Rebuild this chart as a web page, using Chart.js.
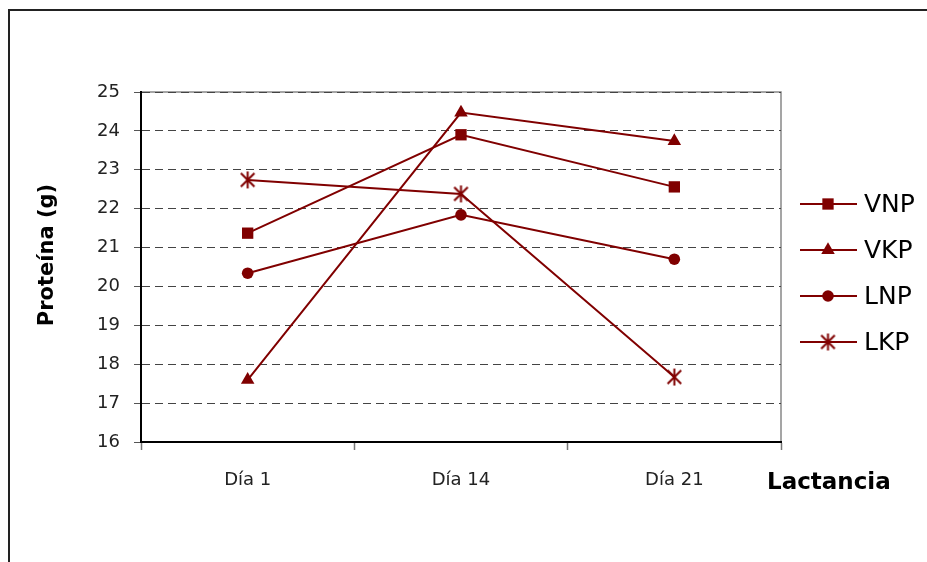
<!DOCTYPE html>
<html>
<head>
<meta charset="utf-8">
<script src="https://cdn.jsdelivr.net/npm/chart.js@4/dist/chart.umd.min.js"></script>
<style>
  html, body { margin: 0; padding: 0; background: #fff; }
  #wrap { position: relative; width: 927px; height: 562px; }
</style>
</head>
<body>
<div id="wrap"><canvas id="c"></canvas></div>
<script>
// Protein content (g) in milk over the lactation period
const days = ['Día 1', 'Día 14', 'Día 21'];
const seriesNames = ['VNP', 'VKP', 'LNP', 'LKP'];
const vnp = [21.37, 23.9, 22.56];
const vkp = [17.6, 24.47, 23.74];
const lnp = [20.34, 21.84, 20.7];
const lkp = [22.74, 22.38, 17.67];
const yTicks = [16, 17, 18, 19, 20, 21, 22, 23, 24, 25];
const yTitle = 'Proteína (g)';
const xTitle = 'Lactancia';

const MAROON = '#800000';
const FONT = '"DejaVu Sans", sans-serif';

// Asterisk marker: an X with a vertical bar
function makeStar(size) {
  const cv = document.createElement('canvas');
  cv.width = size; cv.height = size;
  const g = cv.getContext('2d');
  const h = size / 2, r = size / 2 - 1;
  g.strokeStyle = MAROON;
  g.lineWidth = 2;
  g.beginPath();
  g.moveTo(h, h - r); g.lineTo(h, h + r);
  const d = r * 0.8;
  g.moveTo(h - d, h - d); g.lineTo(h + d, h + d);
  g.moveTo(h - d, h + d); g.lineTo(h + d, h - d);
  g.stroke();
  return cv;
}
const starImg = makeStar(19);

const styles = [
  { pointStyle: 'rect', radius: 8 },
  { pointStyle: 'triangle', radius: 7.8 },
  { pointStyle: 'circle', radius: 5.8 },
  { pointStyle: starImg, radius: 9 }
];
const values = [vnp, vkp, lnp, lkp];

const datasets = seriesNames.map((name, i) => ({
  label: name,
  data: values[i],
  borderColor: MAROON,
  backgroundColor: MAROON,
  borderWidth: 2,
  pointStyle: styles[i].pointStyle,
  pointRadius: styles[i].radius,
  pointHoverRadius: styles[i].radius,
  pointBorderWidth: 0,
  pointBackgroundColor: MAROON,
  pointBorderColor: MAROON,
  tension: 0,
  fill: false
}));

function drawMarker(ctx, style, r, x, y) {
  ctx.save();
  ctx.fillStyle = MAROON;
  ctx.beginPath();
  if (style === 'rect') {
    const s = Math.SQRT1_2 * r;
    ctx.rect(x - s, y - s, 2 * s, 2 * s);
    ctx.fill();
  } else if (style === 'triangle') {
    ctx.moveTo(x, y - r);
    ctx.lineTo(x + Math.sin(2 * Math.PI / 3) * r, y + r / 2);
    ctx.lineTo(x - Math.sin(2 * Math.PI / 3) * r, y + r / 2);
    ctx.closePath();
    ctx.fill();
  } else if (style === 'circle') {
    ctx.arc(x, y, r, 0, Math.PI * 2);
    ctx.fill();
  } else {
    ctx.drawImage(style, x - style.width / 2, y - style.height / 2);
  }
  ctx.restore();
}

const decor = {
  id: 'decor',
  beforeDraw(chart) {
    const ctx = chart.ctx, a = chart.chartArea;
    ctx.save();
    // outer frame
    ctx.strokeStyle = '#222';
    ctx.lineWidth = 2;
    ctx.beginPath();
    ctx.moveTo(9, 562); ctx.lineTo(9, 10); ctx.lineTo(927, 10);
    ctx.stroke();
    // plot frame (top and right)
    ctx.strokeStyle = '#888';
    ctx.lineWidth = 1.5;
    ctx.beginPath();
    ctx.moveTo(a.left, a.top); ctx.lineTo(a.right, a.top); ctx.lineTo(a.right, a.bottom);
    ctx.stroke();
    ctx.restore();
  },
  afterDraw(chart) {
    const ctx = chart.ctx, a = chart.chartArea;
    ctx.save();
    // axis titles
    ctx.fillStyle = '#000';
    ctx.font = 'bold 21px ' + FONT;
    ctx.textAlign = 'center';
    ctx.textBaseline = 'middle';
    ctx.save();
    ctx.translate(48, 255);
    ctx.rotate(-Math.PI / 2);
    ctx.fillText(yTitle, 0, 0);
    ctx.restore();
    ctx.font = 'bold 23px ' + FONT;
    ctx.textAlign = 'left';
    ctx.textBaseline = 'alphabetic';
    ctx.fillText(xTitle, 767, 489);
    // legend
    const x0 = a.right + 19, x1 = a.right + 76, xm = a.right + 47;
    chart.data.datasets.forEach((ds, i) => {
      const y = 204 + i * 46;
      ctx.strokeStyle = MAROON;
      ctx.lineWidth = 2;
      ctx.beginPath();
      ctx.moveTo(x0, y); ctx.lineTo(x1, y);
      ctx.stroke();
      drawMarker(ctx, ds.pointStyle, ds.pointRadius, xm, y);
      ctx.fillStyle = '#000';
      ctx.font = '25px ' + FONT;
      ctx.textAlign = 'left';
      ctx.textBaseline = 'middle';
      ctx.fillText(ds.label, a.right + 83, y + 1);
    });
    ctx.restore();
  }
};

new Chart(document.getElementById('c'), {
  type: 'line',
  data: { labels: days, datasets },
  plugins: [decor],
  options: {
    responsive: true,
    maintainAspectRatio: false,
    animation: false,
    events: [],
    layout: { padding: { left: 10, top: 92, right: 146, bottom: 0 } },
    plugins: { legend: { display: false }, tooltip: { enabled: false } },
    scales: {
      x: {
        offset: true,
        grid: {
          offset: true,
          drawOnChartArea: false,
          drawTicks: true,
          tickLength: 8,
          tickColor: '#777',
          tickWidth: 1.5
        },
        border: { display: true, color: '#000', width: 2 },
        ticks: {
          color: '#222',
          font: { family: FONT, size: 18 },
          padding: 20,
          maxRotation: 0
        },
        afterFit(scale) { scale.height = 120; }
      },
      y: {
        min: yTicks[0],
        max: yTicks[yTicks.length - 1],
        afterBuildTicks(scale) { scale.ticks = yTicks.map(v => ({ value: v })); },
        grid: {
          color: '#444',
          lineWidth: 1,
          drawTicks: true,
          tickLength: 7,
          tickColor: '#555',
          tickWidth: 1,
          tickBorderDash: []
        },
        border: { display: true, color: '#000', width: 2, dash: [8, 5] },
        ticks: {
          color: '#222',
          font: { family: FONT, size: 18 },
          padding: 14
        },
        afterFit(scale) { scale.width = 131; }
      }
    }
  }
});
</script>
</body>
</html>
